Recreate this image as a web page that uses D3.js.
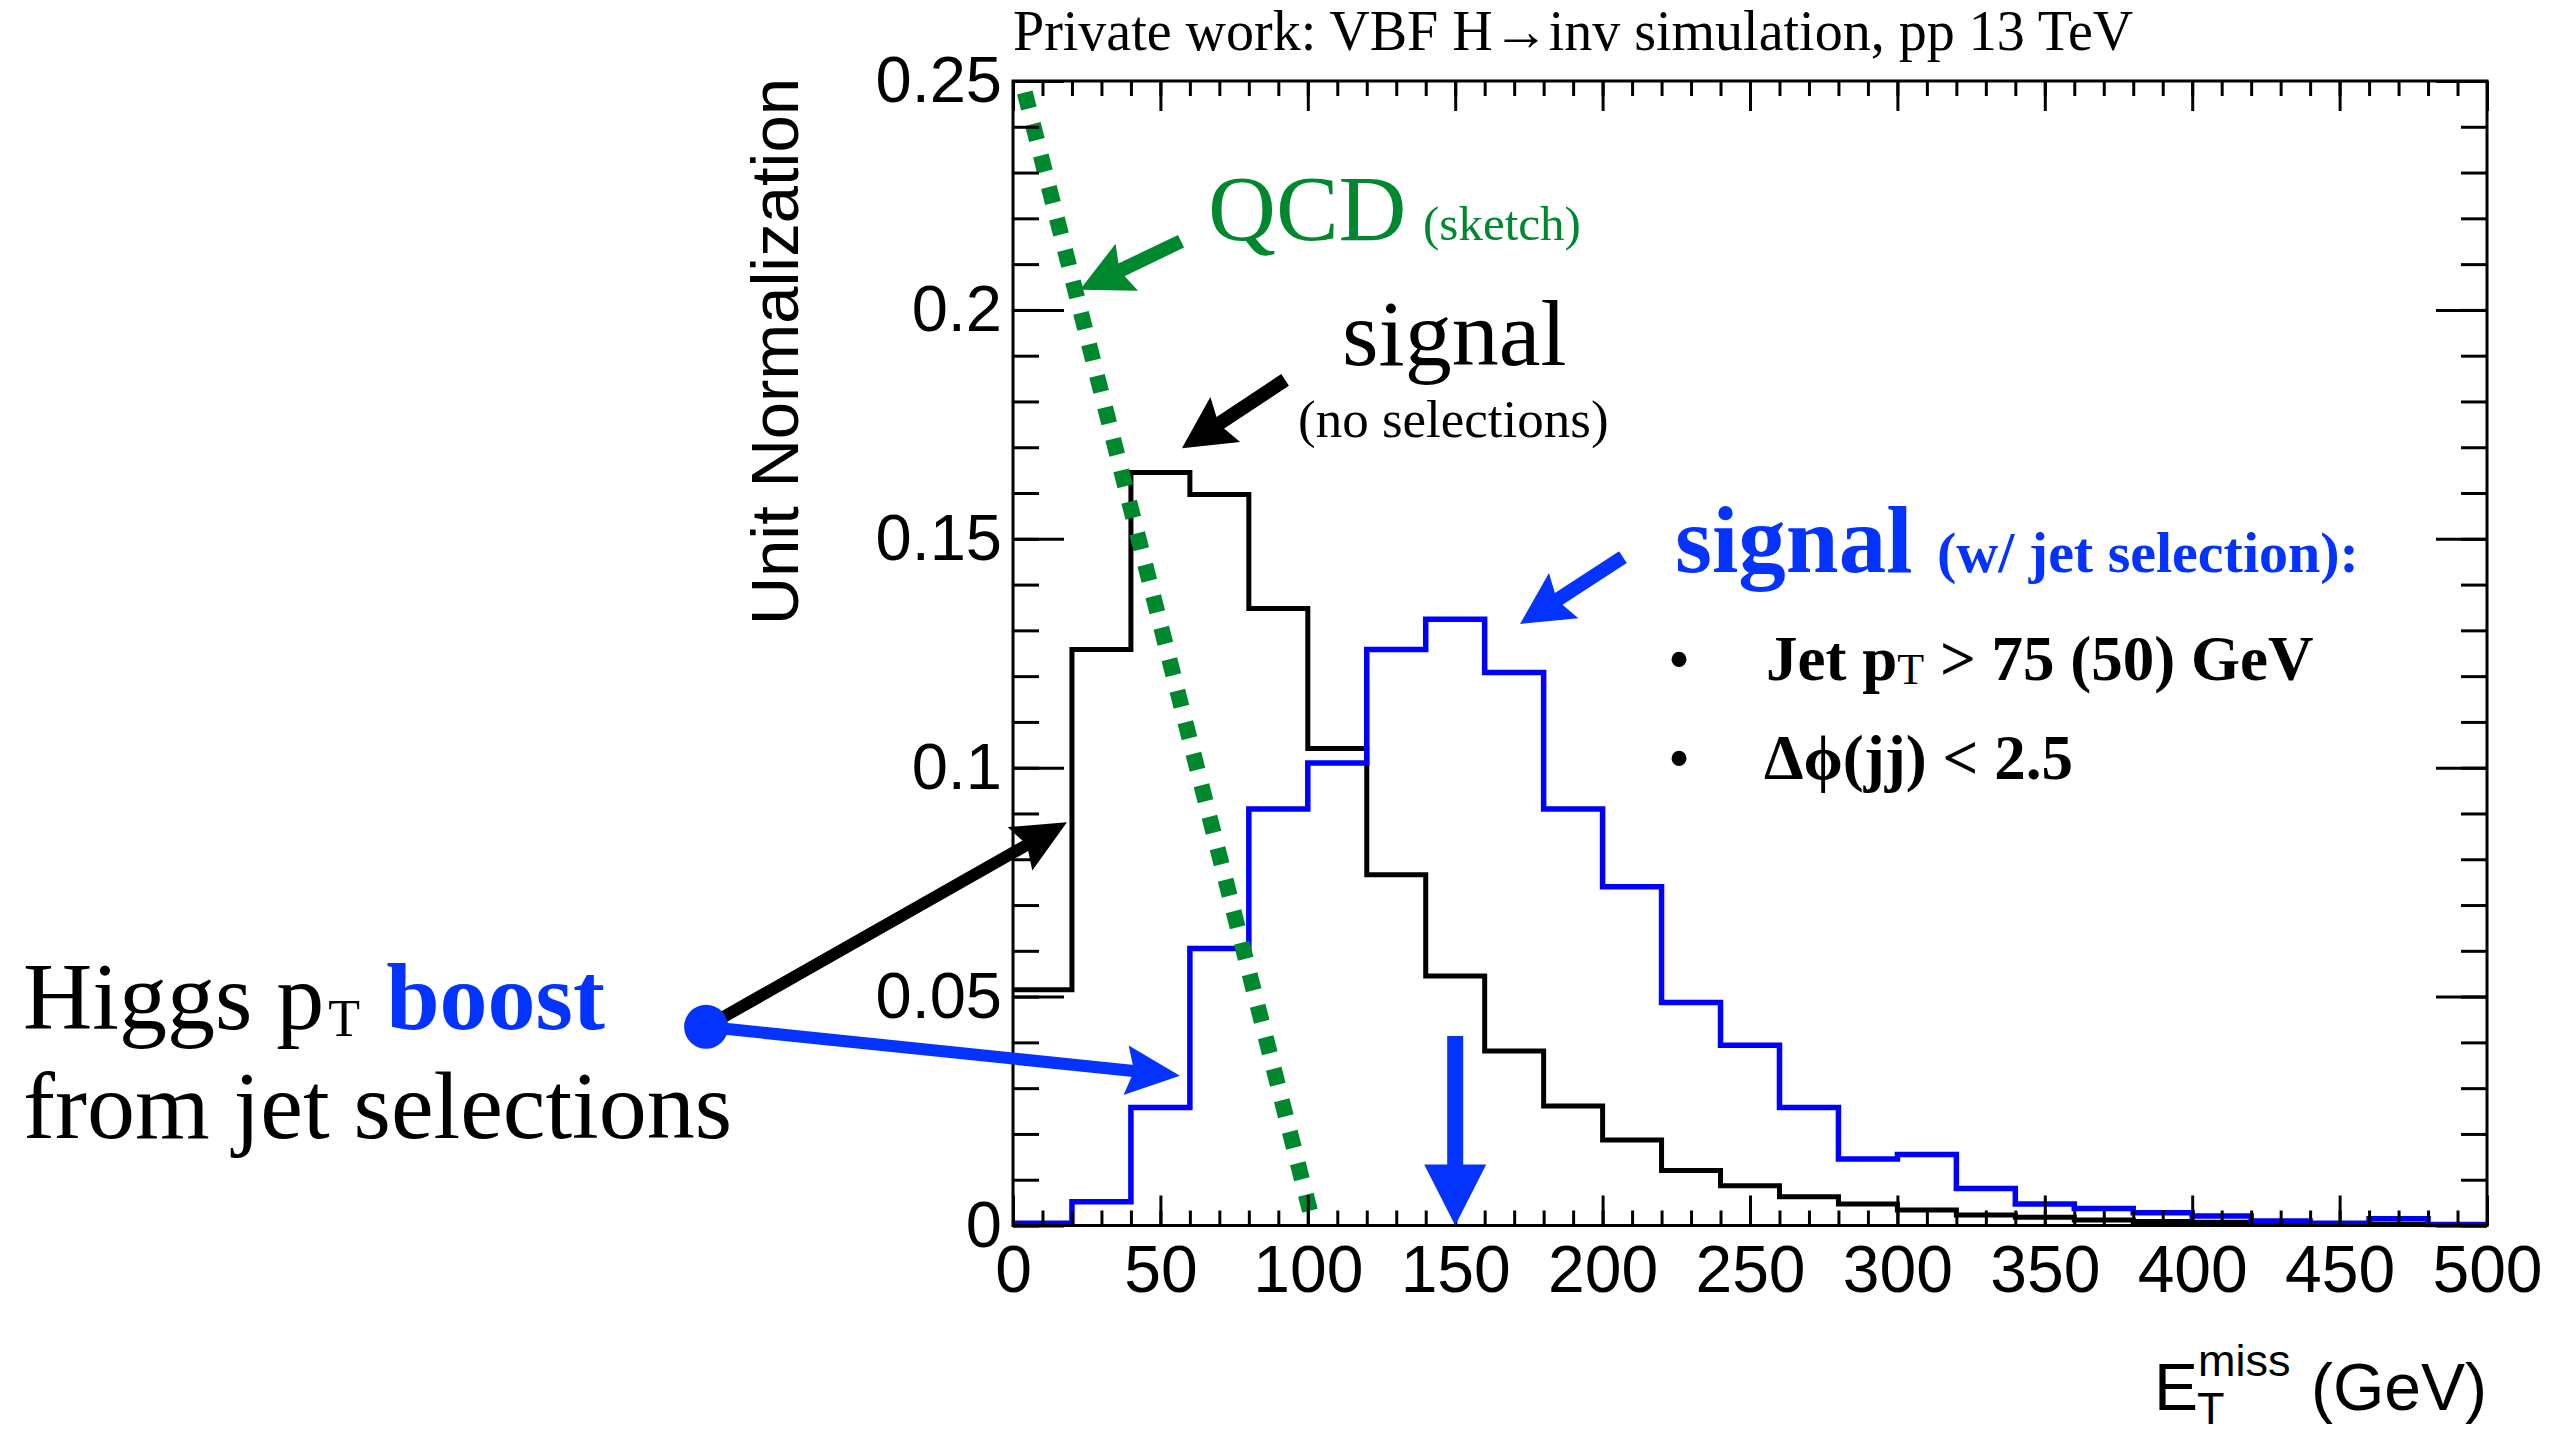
<!DOCTYPE html>
<html>
<head>
<meta charset="utf-8">
<script src="https://cdn.jsdelivr.net/npm/d3@7"></script>
<style>
  html, body { margin: 0; padding: 0; background: #ffffff; }
  svg { display: block; }
</style>
</head>
<body>
<svg id="chart" width="2555" height="1433"></svg>
<script>
// ---- Histogram content: 25 bins of 20 GeV from 0 to 500 GeV (unit normalised) ----
const binEdges = d3.range(0, 501, 20);
const signalNoSel = [0.0515, 0.1258, 0.1645, 0.1597, 0.1348, 0.1042, 0.0766, 0.0545, 0.0381, 0.0261,
                     0.0187, 0.0120, 0.0087, 0.0063, 0.0047, 0.0034, 0.0023, 0.0018, 0.0012, 0.0009,
                     0.0007, 0.0005, 0.0004, 0.0003, 0.0002];
const signalJetSel = [0.0005, 0.0052, 0.0258, 0.0605, 0.0910, 0.1010, 0.1258, 0.1324, 0.1208, 0.0910,
                      0.0740, 0.0487, 0.0394, 0.0258, 0.0145, 0.0155, 0.0081, 0.0047, 0.0037, 0.0028,
                      0.0021, 0.0010, 0.0005, 0.0015, 0.0002];
// QCD shape is only a hand-drawn straight sketch between two points
const qcdSketchX = [4, 102];
const qcdSketchY = [0.2475, 0];

// ---- Axis ticks ----
const xMajorTicks = d3.range(0, 501, 50);
const xMinorTicks = d3.range(0, 501, 10);
const yMajorTicks = [0, 0.05, 0.1, 0.15, 0.2, 0.25];
const yTickLabels = ["0", "0.05", "0.1", "0.15", "0.2", "0.25"];
const yMinorTicks = d3.range(0, 26).map(i => i / 100);

// ---- Layout ----
const frame = { left: 1013, right: 2487, top: 81, bottom: 1225.5 };
const SANS = "'Liberation Sans', Arial, Helvetica, sans-serif";
const SERIF = "'Liberation Serif', 'Times New Roman', Times, serif";
const BLUE_HIST = "#0000ff";
const BLUE = "#0433ff";
const GREEN = "#00882f";

const svg = d3.select("#chart");
svg.append("rect").attr("width", 2555).attr("height", 1433).attr("fill", "#ffffff");

const x = d3.scaleLinear().domain([0, 500]).range([frame.left, frame.right]);
const y = d3.scaleLinear().domain([0, 0.25]).range([frame.bottom, frame.top]);

// ---- Histograms as step outlines ----
function stepPoints(values) {
  const pts = values.map((v, i) => [binEdges[i], v]);
  pts.push([binEdges[binEdges.length - 1], values[values.length - 1]]);
  return pts;
}
const stepLine = d3.line().x(d => x(d[0])).y(d => y(d[1])).curve(d3.curveStepAfter);

const plot = svg.append("g");
plot.append("path").attr("d", stepLine(stepPoints(signalNoSel)))
  .attr("fill", "none").attr("stroke", "#000").attr("stroke-width", 5);
plot.append("path").attr("d", stepLine(stepPoints(signalJetSel)))
  .attr("fill", "none").attr("stroke", BLUE_HIST).attr("stroke-width", 5.5);

// QCD sketch (thick dotted green line)
const qcdPts = qcdSketchX.map((v, i) => [v, qcdSketchY[i]]);
plot.append("path").attr("d", d3.line().x(d => x(d[0])).y(d => y(d[1]))(qcdPts))
  .attr("fill", "none").attr("stroke", GREEN).attr("stroke-width", 16)
  .attr("stroke-dasharray", "16.5 16");

// ---- Frame and ticks (ticks pointing inwards on all four sides) ----
function styleAxis(g) {
  g.select(".domain").remove();
  g.selectAll(".tick line").attr("stroke", "#000").attr("stroke-width", 3);
}
const noLabel = () => "";

svg.append("g").attr("transform", `translate(0,${frame.bottom})`)
  .call(d3.axisBottom(x).tickValues(xMinorTicks).tickSize(-15).tickFormat(noLabel)).call(styleAxis);
const xAxisG = svg.append("g").attr("transform", `translate(0,${frame.bottom})`)
  .call(d3.axisBottom(x).tickValues(xMajorTicks).tickSize(-30).tickPadding(20).tickFormat(d3.format("d")))
  .call(styleAxis);
xAxisG.selectAll(".tick text").attr("font-family", SANS).attr("font-size", 66).attr("fill", "#000");

svg.append("g").attr("transform", `translate(0,${frame.top})`)
  .call(d3.axisTop(x).tickValues(xMinorTicks).tickSize(-15).tickFormat(noLabel)).call(styleAxis);
svg.append("g").attr("transform", `translate(0,${frame.top})`)
  .call(d3.axisTop(x).tickValues(xMajorTicks).tickSize(-30).tickFormat(noLabel)).call(styleAxis);

svg.append("g").attr("transform", `translate(${frame.left},0)`)
  .call(d3.axisLeft(y).tickValues(yMinorTicks).tickSize(-26).tickFormat(noLabel)).call(styleAxis);
const yAxisG = svg.append("g").attr("transform", `translate(${frame.left},0)`)
  .call(d3.axisLeft(y).tickValues(yMajorTicks).tickSize(-51).tickPadding(11)
    .tickFormat((d, i) => yTickLabels[i]))
  .call(styleAxis);
yAxisG.selectAll(".tick text").attr("font-family", SANS).attr("font-size", 65).attr("fill", "#000");

svg.append("g").attr("transform", `translate(${frame.right},0)`)
  .call(d3.axisRight(y).tickValues(yMinorTicks).tickSize(-26).tickFormat(noLabel)).call(styleAxis);
svg.append("g").attr("transform", `translate(${frame.right},0)`)
  .call(d3.axisRight(y).tickValues(yMajorTicks).tickSize(-51).tickFormat(noLabel)).call(styleAxis);

svg.append("rect")
  .attr("x", frame.left).attr("y", frame.top)
  .attr("width", frame.right - frame.left).attr("height", frame.bottom - frame.top)
  .attr("fill", "none").attr("stroke", "#000").attr("stroke-width", 3);

// ---- Axis titles ----
svg.append("text")
  .attr("transform", `translate(798,${frame.top - 3}) rotate(-90)`)
  .attr("text-anchor", "end").attr("font-family", SANS).attr("font-size", 67).attr("fill", "#000")
  .text("Unit Normalization");

const xt = svg.append("g").attr("font-family", SANS).attr("fill", "#000");
xt.append("text").attr("x", 2154).attr("y", 1410).attr("font-size", 66).text("E");
xt.append("text").attr("x", 2198).attr("y", 1376).attr("font-size", 45).text("miss");
xt.append("text").attr("x", 2197).attr("y", 1424).attr("font-size", 45).text("T");
xt.append("text").attr("x", frame.right).attr("y", 1410).attr("text-anchor", "end")
  .attr("font-size", 66).text("(GeV)");

// ---- Header ----
svg.append("text").attr("x", frame.left).attr("y", 50)
  .attr("font-family", SERIF).attr("font-size", 56).attr("fill", "#000")
  .text("Private work: VBF H\u2192inv simulation, pp 13 TeV");

// ---- Annotation arrows (anchored in data coordinates) ----
function arrow(g, from, to, o) {
  const x0 = x(from[0]), y0 = y(from[1]), x1 = x(to[0]), y1 = y(to[1]);
  const dx = x1 - x0, dy = y1 - y0, L = Math.hypot(dx, dy);
  const ux = dx / L, uy = dy / L;
  const bx = x1 - ux * o.head, by = y1 - uy * o.head;
  const nx = bx + ux * o.notch, ny = by + uy * o.notch;
  g.append("line").attr("x1", x0).attr("y1", y0).attr("x2", nx + ux * 2).attr("y2", ny + uy * 2)
    .attr("stroke", o.color).attr("stroke-width", o.shaft);
  g.append("path")
    .attr("d", `M${x1},${y1}L${bx - uy * o.half},${by + ux * o.half}L${nx},${ny}L${bx + uy * o.half},${by - ux * o.half}Z`)
    .attr("fill", o.color);
}
const ann = svg.append("g");
arrow(ann, [57.0, 0.2150], [22.7, 0.2044], { color: GREEN, shaft: 14, head: 52, half: 26, notch: 8 });
arrow(ann, [92.3, 0.1847], [57.3, 0.1698], { color: "#000", shaft: 14, head: 52, half: 27, notch: 8 });
arrow(ann, [206.9, 0.1460], [172.0, 0.1314], { color: BLUE, shaft: 14, head: 52, half: 27, notch: 8 });
arrow(ann, [150, 0.0414], [150, 0], { color: BLUE, shaft: 16, head: 61, half: 31, notch: 0 });

// Higgs pT boost pointers, starting from a dot left of the frame
const dotPos = [-104.1, 0.0434];
arrow(ann, dotPos, [18.3, 0.0881], { color: "#000", shaft: 12, head: 54, half: 25, notch: 8 });
arrow(ann, dotPos, [56.6, 0.0327], { color: BLUE, shaft: 12, head: 54, half: 25, notch: 8 });
ann.append("circle").attr("cx", x(dotPos[0])).attr("cy", y(dotPos[1])).attr("r", 22).attr("fill", BLUE);

// ---- Annotation text ----
const tx = svg.append("g").attr("font-family", SERIF);
tx.append("text").attr("x", 1208).attr("y", 240).attr("font-size", 94).attr("fill", GREEN).text("QCD");
tx.append("text").attr("x", 1423).attr("y", 240).attr("font-size", 49).attr("fill", GREEN).text("(sketch)");

tx.append("text").attr("x", 1342).attr("y", 365).attr("font-size", 94).attr("fill", "#000").text("signal");
tx.append("text").attr("x", 1298).attr("y", 437).attr("font-size", 53).attr("fill", "#000").text("(no selections)");

tx.append("text").attr("x", 1675).attr("y", 572).attr("font-size", 95).attr("font-weight", "bold")
  .attr("fill", BLUE).text("signal");
tx.append("text").attr("x", 1937).attr("y", 572).attr("font-size", 58).attr("font-weight", "bold")
  .attr("fill", BLUE).text("(w/ jet selection):");

tx.append("text").attr("x", 1668).attr("y", 680).attr("font-size", 63).attr("fill", "#000").text("\u2022");
const cut1 = tx.append("text").attr("x", 1766).attr("y", 680).attr("font-size", 63)
  .attr("font-weight", "bold").attr("fill", "#000");
cut1.append("tspan").text("Jet p");
cut1.append("tspan").attr("font-size", 44).attr("font-weight", "normal").attr("dy", 4).text("T");
cut1.append("tspan").attr("dy", -4).text(" > 75 (50) GeV");

tx.append("text").attr("x", 1668).attr("y", 779).attr("font-size", 63).attr("fill", "#000").text("\u2022");
tx.append("text").attr("x", 1764).attr("y", 779).attr("font-size", 63).attr("font-weight", "bold")
  .attr("fill", "#000").text("\u0394\u03d5(jj) < 2.5");

const higgs = tx.append("text").attr("x", 23).attr("y", 1029).attr("font-size", 96).attr("fill", "#000");
higgs.append("tspan").text("Higgs p");
higgs.append("tspan").attr("font-size", 52).attr("dx", 4).attr("dy", 7).text("T");
higgs.append("tspan").attr("dy", -7).text(" ");
higgs.append("tspan").attr("dx", 2).attr("font-weight", "bold").attr("fill", BLUE).text("boost");
tx.append("text").attr("x", 23).attr("y", 1138).attr("font-size", 96).attr("fill", "#000")
  .text("from jet selections");
</script>
</body>
</html>
